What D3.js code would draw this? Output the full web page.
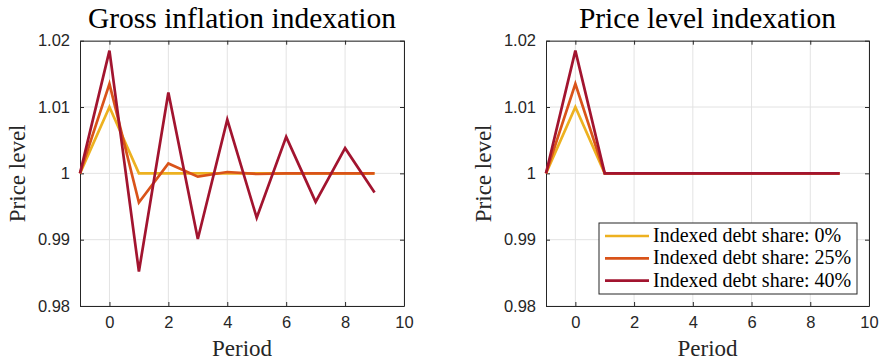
<!DOCTYPE html>
<html>
<head>
<meta charset="utf-8">
<script src="https://cdn.jsdelivr.net/npm/d3@7"></script>
<style>
  html, body { margin: 0; padding: 0; background: #fff; }
  svg { display: block; }
</style>
</head>
<body>
<svg id="chart" width="879" height="363"></svg>
<script>
// Periods simulated (t = -1 is the steady state before the shock)
const periods = [-1, 0, 1, 2, 3, 4, 5, 6, 7, 8, 9];

// Series labels and colours
const seriesNames = ["Indexed debt share: 0%", "Indexed debt share: 25%", "Indexed debt share: 40%"];
const seriesColors = ["#EDB120", "#D95319", "#A2142F"];

// Price level paths under gross inflation indexation
const grossShare0  = [1, 1.0100, 1.0000, 1.0000, 1.0000, 1.0000, 1.0000, 1.0000, 1.0000, 1.0000, 1.0000];
const grossShare25 = [1, 1.0135, 0.9956, 1.0015, 0.9995, 1.0002, 0.9999, 1.0000, 1.0000, 1.0000, 1.0000];
const grossShare40 = [1, 1.0185, 0.9852, 1.0122, 0.9901, 1.0081, 0.9933, 1.0055, 0.9957, 1.0038, 0.9971];

// Price level paths under price level indexation
const levelShare0  = [1, 1.0100, 1, 1, 1, 1, 1, 1, 1, 1, 1];
const levelShare25 = [1, 1.0135, 1, 1, 1, 1, 1, 1, 1, 1, 1];
const levelShare40 = [1, 1.0185, 1, 1, 1, 1, 1, 1, 1, 1, 1];

// Axis ticks
const xTicks = [0, 2, 4, 6, 8, 10];
const yTicks = [0.98, 0.99, 1.00, 1.01, 1.02];
const yTickLabels = ["0.98", "0.99", "1", "1.01", "1.02"];

const titles = ["Gross inflation indexation", "Price level indexation"];

const svg = d3.select("#chart");
const serif = "'Liberation Serif', 'Times New Roman', serif";
const sans = "'Liberation Sans', Arial, sans-serif";
const axisColor = "#262626";
const gridColor = "#e3e3e3";

function panel(left, right, top, bottom, title, data, withLegend) {
  const x = d3.scaleLinear().domain([-1, 10]).range([left, right]);
  const y = d3.scaleLinear().domain([0.98, 1.02]).range([bottom, top]);
  const g = svg.append("g");

  // grid
  g.append("g").selectAll("line").data(xTicks).join("line")
    .attr("x1", d => x(d)).attr("x2", d => x(d))
    .attr("y1", top).attr("y2", bottom)
    .attr("stroke", gridColor).attr("stroke-width", 1);
  g.append("g").selectAll("line").data(yTicks).join("line")
    .attr("x1", left).attr("x2", right)
    .attr("y1", d => y(d)).attr("y2", d => y(d))
    .attr("stroke", gridColor).attr("stroke-width", 1);

  // box axes with inward ticks
  const xAxis = d3.axisBottom(x).tickValues(xTicks).tickSize(-4).tickPadding(10).tickSizeOuter(0);
  const yAxis = d3.axisLeft(y).tickValues(yTicks).tickFormat((d, i) => yTickLabels[i])
    .tickSize(-4).tickPadding(10).tickSizeOuter(0);
  const xTop = d3.axisTop(x).tickValues(xTicks).tickSize(-4).tickFormat("").tickSizeOuter(0);
  const yRight = d3.axisRight(y).tickValues(yTicks).tickSize(-4).tickFormat("").tickSizeOuter(0);

  const styleAxis = sel => {
    sel.selectAll("path").attr("stroke", axisColor).attr("stroke-width", 1);
    sel.selectAll("line").attr("stroke", axisColor).attr("stroke-width", 1);
    sel.selectAll("text").attr("fill", axisColor).style("font-family", sans).style("font-size", "16.5px");
  };
  g.append("g").attr("transform", `translate(0,${bottom})`).call(xAxis).call(styleAxis);
  g.append("g").attr("transform", `translate(${left},0)`).call(yAxis).call(styleAxis);
  g.append("g").attr("transform", `translate(0,${top})`).call(xTop).call(styleAxis);
  g.append("g").attr("transform", `translate(${right},0)`).call(yRight).call(styleAxis);

  // lines
  const line = d3.line().x((d, i) => x(periods[i])).y(d => y(d));
  data.forEach((s, k) => {
    g.append("path").datum(s)
      .attr("d", line)
      .attr("fill", "none")
      .attr("stroke", seriesColors[k])
      .attr("stroke-width", 2.7)
      .attr("stroke-linejoin", "miter");
  });

  // title and labels
  g.append("text").attr("x", (left + right) / 2).attr("y", 28)
    .attr("text-anchor", "middle").attr("fill", "#000")
    .style("font-family", serif).style("font-size", "29.5px").text(title);
  g.append("text").attr("x", (left + right) / 2).attr("y", 356)
    .attr("text-anchor", "middle").attr("fill", axisColor)
    .style("font-family", serif).style("font-size", "23px").text("Period");
  g.append("text")
    .attr("transform", `translate(${left - 55},${(top + bottom) / 2}) rotate(-90)`)
    .attr("text-anchor", "middle").attr("fill", axisColor)
    .style("font-family", serif).style("font-size", "23px").text("Price level");

  if (withLegend) {
    const lx = 599, ly = 223, lw = 258, lh = 71;
    const lg = g.append("g");
    lg.append("rect").attr("x", lx).attr("y", ly).attr("width", lw).attr("height", lh)
      .attr("fill", "#fff").attr("stroke", axisColor).attr("stroke-width", 1);
    seriesNames.forEach((name, k) => {
      const cy = ly + 13 + k * 22.3;
      lg.append("line").attr("x1", lx + 6).attr("x2", lx + 50)
        .attr("y1", cy).attr("y2", cy)
        .attr("stroke", seriesColors[k]).attr("stroke-width", 2.7);
      lg.append("text").attr("x", lx + 54).attr("y", cy + 6)
        .attr("fill", "#000")
        .style("font-family", serif).style("font-size", "20px").text(name);
    });
  }
}

panel(80, 404, 40.7, 306, titles[0], [grossShare0, grossShare25, grossShare40], false);
panel(546, 869, 40.7, 306, titles[1], [levelShare0, levelShare25, levelShare40], true);
</script>
</body>
</html>
